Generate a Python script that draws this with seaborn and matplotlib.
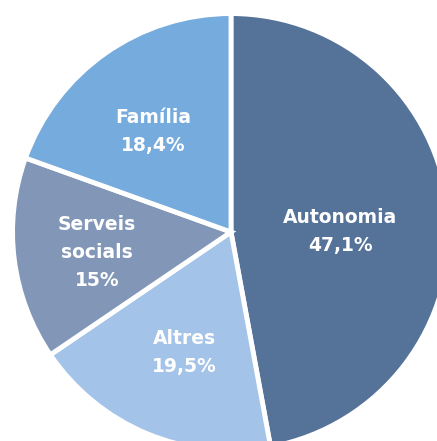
import numpy as np
import matplotlib
matplotlib.use("Agg")
import matplotlib.pyplot as plt
import seaborn as sns

# dades del gràfic (mida dels sectors tal com es veuen a la imatge)
categories = ["Autonomia", "Altres", "Serveis\nsocials", "Família"]
sizes = [47.1, 18.4, 15.0, 19.5]
value_labels = ["47,1%", "19,5%", "15%", "18,4%"]
colors = ["#557299", "#a3c3e8", "#8297b7", "#75abdd"]

# posició de les etiquetes: distància al centre i desviació angular
label_radius = [0.505, 0.597, 0.628, 0.59]
label_shift = [-4.9, 1.3, 1.7, 2.6]

sns.set_theme(style="white")
plt.rcParams["font.family"] = ["DejaVu Sans"]

R_PX = 216.0  # radi visible en píxels
CX, CY = 231.0, 232.0
LW = 3.5

fig = plt.figure(figsize=(4.37, 4.41), dpi=100)
ax = fig.add_axes([0, 0, 1, 1])

wedges, _ = ax.pie(sizes, colors=colors, startangle=90, counterclock=False,
                   radius=1.0 + (LW * 100 / 72 / 2) / R_PX,
                   wedgeprops=dict(edgecolor="white", linewidth=LW))

for w, cat, val, r, d in zip(wedges, categories, value_labels, label_radius, label_shift):
    ang = np.deg2rad((w.theta1 + w.theta2) / 2 + d)
    ax.text(r * np.cos(ang), r * np.sin(ang), f"{cat}\n{val}",
            ha="center", va="center", color="white",
            fontsize=13.5, fontweight="bold", linespacing=1.6)

ax.set_xlim(-CX / R_PX, (437 - CX) / R_PX)
ax.set_ylim(-(441 - CY) / R_PX, CY / R_PX)
ax.set_aspect("equal")
ax.axis("off")

fig.savefig("out.png", dpi=100, facecolor="white")
